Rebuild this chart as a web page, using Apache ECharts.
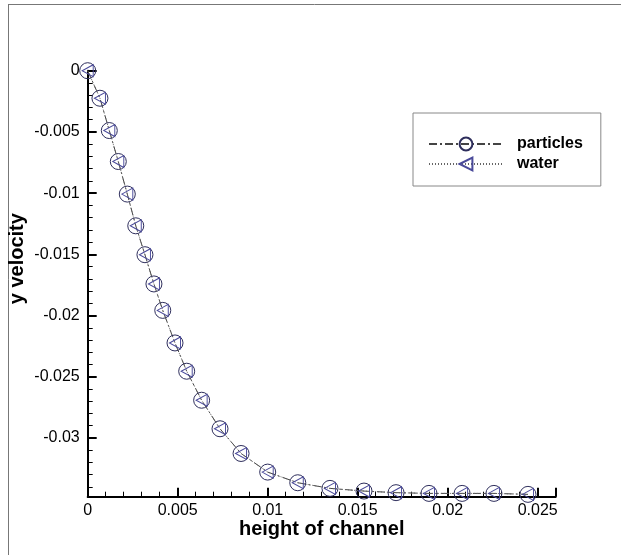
<!DOCTYPE html>
<html>
<head>
<meta charset="utf-8">
<script src="https://cdn.jsdelivr.net/npm/echarts@6/dist/echarts.min.js"></script>
<style>
html,body{margin:0;padding:0;background:#fff;}
#chart{width:621px;height:555px;}
</style>
</head>
<body>
<div id="chart"></div>
<script>
// Data
var heightOfChannel = [0, 0.00068, 0.0012, 0.0017, 0.0022, 0.00267, 0.00318, 0.00368, 0.00417, 0.00485, 0.0055, 0.00633, 0.00735, 0.00852, 0.0100, 0.01167, 0.01346, 0.01535, 0.01713, 0.01896, 0.0208, 0.02257, 0.02446];
var particlesVelocity = [0, -0.00225, -0.00489, -0.00742, -0.01008, -0.01267, -0.01503, -0.01742, -0.01958, -0.02224, -0.02455, -0.02692, -0.02925, -0.03127, -0.03279, -0.03366, -0.03412, -0.03434, -0.03447, -0.03453, -0.03453, -0.03453, -0.03461];
var waterVelocity = [0, -0.00225, -0.00489, -0.00742, -0.01008, -0.01267, -0.01503, -0.01742, -0.01958, -0.02224, -0.02455, -0.02692, -0.02925, -0.03127, -0.03279, -0.03366, -0.03412, -0.03434, -0.03447, -0.03453, -0.03453, -0.03453, -0.03461];
var seriesNames = ['particles', 'water'];

function pairs(xs, ys) {
  var out = [];
  for (var i = 0; i < xs.length; i++) out.push([xs[i], ys[i]]);
  return out;
}

var FONT = "'Liberation Sans', Arial, Helvetica, sans-serif";
var chart = echarts.init(document.getElementById('chart'), null, {renderer: 'canvas'});

var axisCommon = {
  axisLine: {show: true, onZero: false, lineStyle: {color: '#000', width: 2}},
  axisTick: {show: true, inside: true, length: 9, lineStyle: {color: '#000', width: 2}},
  minorTick: {show: true, splitNumber: 5, length: 5, lineStyle: {color: '#000', width: 1}},
  splitLine: {show: false},
  minorSplitLine: {show: false},
  nameMoveOverlap: false
};

var option = {
  animation: false,
  backgroundColor: '#fff',
  textStyle: {fontFamily: FONT},
  grid: {left: 87.7, top: 70.7, right: 65.3, bottom: 58.3, containLabel: false, outerBoundsMode: 'none'},
  xAxis: Object.assign({
    type: 'value',
    min: 0,
    max: 0.026,
    interval: 0.005,
    name: 'height of channel',
    nameLocation: 'middle',
    nameGap: 23,
    nameTextStyle: {fontFamily: FONT, fontSize: 20, fontWeight: 'bold', color: '#000'},
    axisLabel: {
      fontFamily: FONT, fontSize: 16, color: '#000', margin: 6, showMaxLabel: false,
      formatter: function (v) { return String(parseFloat(v.toFixed(4))); }
    }
  }, axisCommon),
  yAxis: Object.assign({
    type: 'value',
    min: -0.0348,
    max: 0,
    splitNumber: 5,
    minInterval: 0.005,
    maxInterval: 0.005,
    name: 'y velocity',
    nameLocation: 'middle',
    nameGap: 60,
    nameTextStyle: {fontFamily: FONT, fontSize: 20, fontWeight: 'bold', color: '#000', padding: [0, 0, 0, 50]},
    axisLabel: {
      fontFamily: FONT, fontSize: 16, color: '#000', margin: 8, showMinLabel: false,
      formatter: function (v) { return String(parseFloat(v.toFixed(4))); }
    }
  }, axisCommon),
  legend: {
    show: true,
    left: 413,
    top: 113,
    orient: 'vertical',
    padding: [23, 18, 14, 15],
    itemWidth: 74,
    itemHeight: 16,
    itemGap: 4,
    borderColor: '#888',
    borderWidth: 1,
    textStyle: {fontFamily: FONT, fontSize: 16, fontWeight: 'bold', color: '#000', padding: [0, 0, 0, 9]},
    data: seriesNames
  },
  series: [
    {
      name: seriesNames[0],
      type: 'line',
      data: pairs(heightOfChannel, particlesVelocity),
      symbol: 'circle',
      symbolSize: 16,
      showAllSymbol: true,
      clip: false,
      lineStyle: {color: '#444', width: 1, type: [8, 3, 2, 3]},
      itemStyle: {color: 'rgba(255,255,255,0)', borderColor: '#2e2e5c', borderWidth: 1},
      z: 3
    },
    {
      name: seriesNames[1],
      type: 'line',
      data: pairs(heightOfChannel, waterVelocity),
      symbol: 'triangle',
      symbolRotate: 90,
      symbolSize: [12, 11],
      showAllSymbol: true,
      clip: false,
      lineStyle: {color: '#666', width: 1, type: [1, 2]},
      itemStyle: {color: 'rgba(255,255,255,0)', borderColor: '#4a4a9a', borderWidth: 1},
      z: 4
    }
  ],
  graphic: [
    {type: 'line', shape: {x1: 8, y1: 4.5, x2: 621, y2: 4.5}, style: {stroke: '#777', lineWidth: 1}, silent: true},
    {type: 'line', shape: {x1: 8.5, y1: 4.5, x2: 8.5, y2: 555}, style: {stroke: '#777', lineWidth: 1}, silent: true}
  ]
};
chart.setOption(option);
</script>
</body>
</html>
